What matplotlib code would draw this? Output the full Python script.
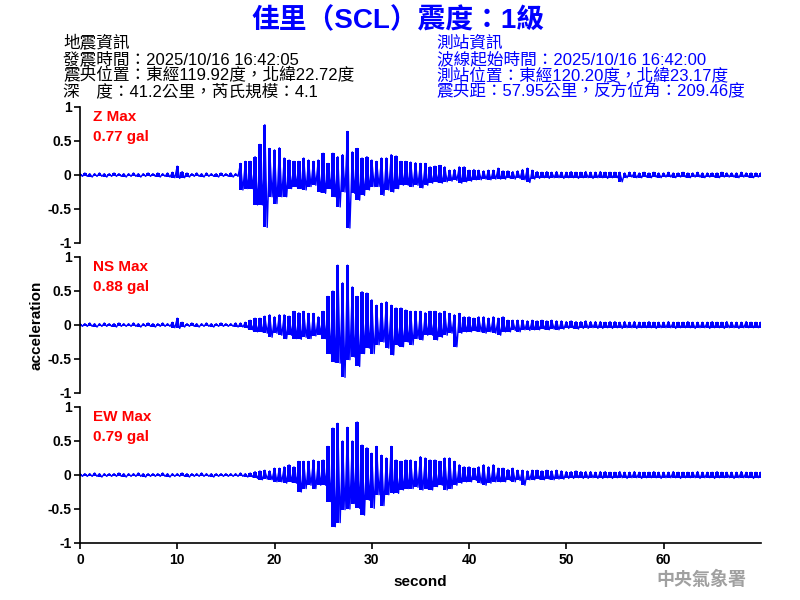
import numpy as np
import matplotlib
matplotlib.use('Agg')
import matplotlib.pyplot as plt

plt.rcParams['font.family'] = ['Liberation Sans', 'Noto Sans CJK TC', 'DejaVu Sans']

# sample times (s) of the envelope readings, one every half second
t_sec = np.arange(0, 70.5, 0.5)

# Z component: upper / lower peaks
z_hi = [0.02, 0.03, 0.02, 0.02, 0.03, 0.02, 0.02, 0.03, 0.02, 0.02,
        0.02, 0.03, 0.02, 0.02, 0.03, 0.02, 0.03, 0.02, 0.03, 0.04,
        0.13, 0.05, 0.03, 0.02, 0.03, 0.02, 0.03, 0.02, 0.02, 0.03,
        0.02, 0.03, 0.02, 0.17, 0.20, 0.20, 0.27, 0.45, 0.74, 0.39,
        0.37, 0.40, 0.25, 0.22, 0.20, 0.20, 0.25, 0.22, 0.20, 0.22,
        0.32, 0.17, 0.32, 0.27, 0.30, 0.64, 0.34, 0.39, 0.25, 0.27,
        0.22, 0.20, 0.25, 0.25, 0.30, 0.28, 0.20, 0.20, 0.19, 0.18,
        0.17, 0.17, 0.12, 0.13, 0.14, 0.12, 0.07, 0.08, 0.12, 0.12,
        0.07, 0.08, 0.07, 0.06, 0.07, 0.07, 0.10, 0.06, 0.06, 0.05,
        0.06, 0.08, 0.10, 0.07, 0.05, 0.04, 0.05, 0.04, 0.05, 0.04,
        0.04, 0.05, 0.04, 0.04, 0.05, 0.04, 0.04, 0.05, 0.04, 0.04,
        0.04, 0.04, 0.03, 0.04, 0.04, 0.03, 0.04, 0.03, 0.04, 0.03,
        0.03, 0.04, 0.03, 0.03, 0.04, 0.03, 0.03, 0.04, 0.03, 0.03,
        0.03, 0.03, 0.04, 0.03, 0.03, 0.03, 0.04, 0.03, 0.03, 0.03,
        0.03]
z_lo = [-0.02, -0.02, -0.03, -0.02, -0.02, -0.03, -0.02, -0.02, -0.02, -0.03,
        -0.02, -0.02, -0.03, -0.02, -0.02, -0.02, -0.03, -0.02, -0.03, -0.04,
        -0.05, -0.04, -0.03, -0.02, -0.02, -0.03, -0.02, -0.02, -0.03, -0.02,
        -0.02, -0.03, -0.02, -0.22, -0.20, -0.20, -0.44, -0.44, -0.77, -0.32,
        -0.42, -0.32, -0.32, -0.20, -0.17, -0.20, -0.22, -0.17, -0.15, -0.25,
        -0.27, -0.20, -0.32, -0.47, -0.25, -0.78, -0.27, -0.37, -0.30, -0.22,
        -0.17, -0.17, -0.30, -0.22, -0.25, -0.20, -0.15, -0.15, -0.17, -0.15,
        -0.19, -0.15, -0.12, -0.10, -0.12, -0.10, -0.09, -0.08, -0.12, -0.10,
        -0.09, -0.07, -0.07, -0.06, -0.07, -0.06, -0.06, -0.06, -0.05, -0.06,
        -0.05, -0.07, -0.11, -0.06, -0.05, -0.04, -0.05, -0.04, -0.04, -0.05,
        -0.04, -0.04, -0.05, -0.04, -0.04, -0.05, -0.04, -0.04, -0.05, -0.04,
        -0.04, -0.10, -0.04, -0.03, -0.04, -0.04, -0.03, -0.04, -0.03, -0.04,
        -0.03, -0.03, -0.04, -0.03, -0.03, -0.04, -0.03, -0.03, -0.04, -0.03,
        -0.03, -0.04, -0.03, -0.03, -0.03, -0.04, -0.03, -0.03, -0.04, -0.03,
        -0.03]

# NS component
ns_hi = [0.02, 0.02, 0.03, 0.02, 0.02, 0.03, 0.02, 0.02, 0.03, 0.02,
         0.02, 0.03, 0.02, 0.02, 0.03, 0.02, 0.02, 0.03, 0.02, 0.04,
         0.10, 0.04, 0.02, 0.03, 0.02, 0.02, 0.03, 0.02, 0.02, 0.03,
         0.02, 0.02, 0.03, 0.03, 0.04, 0.07, 0.10, 0.10, 0.13, 0.15,
         0.12, 0.15, 0.15, 0.13, 0.20, 0.18, 0.20, 0.17, 0.17, 0.12,
         0.20, 0.42, 0.50, 0.88, 0.62, 0.88, 0.56, 0.42, 0.49, 0.47,
         0.37, 0.29, 0.32, 0.34, 0.29, 0.25, 0.25, 0.22, 0.20, 0.20,
         0.20, 0.18, 0.20, 0.20, 0.18, 0.20, 0.17, 0.15, 0.17, 0.12,
         0.12, 0.10, 0.12, 0.12, 0.10, 0.12, 0.10, 0.12, 0.07, 0.07,
         0.07, 0.07, 0.06, 0.07, 0.06, 0.07, 0.06, 0.07, 0.06, 0.06,
         0.05, 0.06, 0.05, 0.05, 0.06, 0.05, 0.05, 0.05, 0.04, 0.05,
         0.05, 0.04, 0.05, 0.04, 0.05, 0.04, 0.04, 0.05, 0.04, 0.04,
         0.04, 0.05, 0.04, 0.04, 0.04, 0.05, 0.04, 0.04, 0.04, 0.04,
         0.05, 0.04, 0.04, 0.05, 0.04, 0.04, 0.04, 0.05, 0.04, 0.04,
         0.04]
ns_lo = [-0.02, -0.02, -0.02, -0.03, -0.02, -0.02, -0.02, -0.03, -0.02, -0.02,
         -0.02, -0.02, -0.03, -0.02, -0.02, -0.03, -0.02, -0.02, -0.02, -0.04,
         -0.05, -0.03, -0.02, -0.02, -0.03, -0.02, -0.02, -0.03, -0.02, -0.02,
         -0.02, -0.02, -0.03, -0.03, -0.04, -0.07, -0.10, -0.10, -0.12, -0.18,
         -0.12, -0.15, -0.20, -0.15, -0.20, -0.21, -0.18, -0.20, -0.16, -0.14,
         -0.20, -0.42, -0.55, -0.56, -0.77, -0.51, -0.47, -0.61, -0.42, -0.34,
         -0.42, -0.29, -0.25, -0.34, -0.44, -0.30, -0.32, -0.25, -0.29, -0.20,
         -0.22, -0.15, -0.15, -0.22, -0.18, -0.15, -0.12, -0.32, -0.12, -0.10,
         -0.10, -0.09, -0.10, -0.12, -0.10, -0.12, -0.15, -0.10, -0.10, -0.08,
         -0.10, -0.07, -0.08, -0.07, -0.07, -0.06, -0.07, -0.06, -0.07, -0.06,
         -0.05, -0.05, -0.06, -0.05, -0.05, -0.04, -0.05, -0.05, -0.04, -0.05,
         -0.04, -0.05, -0.04, -0.04, -0.05, -0.04, -0.04, -0.04, -0.05, -0.04,
         -0.04, -0.04, -0.05, -0.04, -0.04, -0.04, -0.05, -0.04, -0.04, -0.05,
         -0.04, -0.04, -0.05, -0.04, -0.04, -0.05, -0.04, -0.04, -0.04, -0.04,
         -0.04]

# EW component
ew_hi = [0.02, 0.02, 0.02, 0.03, 0.02, 0.02, 0.02, 0.02, 0.03, 0.02,
         0.02, 0.02, 0.03, 0.02, 0.02, 0.02, 0.02, 0.03, 0.02, 0.02,
         0.02, 0.03, 0.02, 0.02, 0.02, 0.03, 0.02, 0.02, 0.02, 0.02,
         0.02, 0.02, 0.02, 0.03, 0.02, 0.03, 0.05, 0.06, 0.07, 0.06,
         0.10, 0.10, 0.12, 0.15, 0.12, 0.20, 0.20, 0.20, 0.22, 0.20,
         0.22, 0.42, 0.69, 0.76, 0.50, 0.70, 0.50, 0.78, 0.44, 0.40,
         0.32, 0.42, 0.29, 0.25, 0.42, 0.22, 0.20, 0.22, 0.22, 0.20,
         0.27, 0.25, 0.22, 0.22, 0.20, 0.25, 0.25, 0.20, 0.15, 0.12,
         0.12, 0.10, 0.12, 0.15, 0.12, 0.15, 0.10, 0.10, 0.08, 0.10,
         0.07, 0.07, 0.06, 0.07, 0.07, 0.06, 0.07, 0.06, 0.07, 0.06,
         0.05, 0.05, 0.06, 0.05, 0.05, 0.05, 0.04, 0.05, 0.05, 0.04,
         0.04, 0.05, 0.04, 0.04, 0.05, 0.04, 0.04, 0.04, 0.05, 0.04,
         0.04, 0.04, 0.05, 0.04, 0.04, 0.04, 0.04, 0.05, 0.04, 0.04,
         0.04, 0.05, 0.04, 0.04, 0.04, 0.04, 0.05, 0.04, 0.04, 0.04,
         0.04]
ew_lo = [-0.02, -0.02, -0.02, -0.02, -0.03, -0.02, -0.02, -0.02, -0.02, -0.03,
         -0.02, -0.02, -0.02, -0.03, -0.02, -0.02, -0.02, -0.02, -0.03, -0.02,
         -0.02, -0.02, -0.03, -0.02, -0.02, -0.02, -0.02, -0.03, -0.02, -0.02,
         -0.02, -0.02, -0.02, -0.02, -0.03, -0.03, -0.05, -0.07, -0.06, -0.07,
         -0.10, -0.10, -0.12, -0.10, -0.12, -0.25, -0.20, -0.15, -0.20, -0.15,
         -0.15, -0.39, -0.76, -0.70, -0.51, -0.50, -0.42, -0.49, -0.59, -0.37,
         -0.49, -0.29, -0.45, -0.29, -0.27, -0.27, -0.22, -0.20, -0.20, -0.18,
         -0.22, -0.20, -0.22, -0.17, -0.15, -0.22, -0.20, -0.15, -0.12, -0.10,
         -0.10, -0.08, -0.12, -0.15, -0.12, -0.10, -0.10, -0.10, -0.08, -0.10,
         -0.08, -0.15, -0.07, -0.07, -0.06, -0.07, -0.06, -0.07, -0.06, -0.06,
         -0.05, -0.05, -0.04, -0.05, -0.05, -0.04, -0.05, -0.05, -0.04, -0.05,
         -0.04, -0.04, -0.05, -0.04, -0.04, -0.05, -0.04, -0.04, -0.04, -0.05,
         -0.04, -0.04, -0.04, -0.05, -0.04, -0.04, -0.04, -0.05, -0.04, -0.04,
         -0.05, -0.04, -0.04, -0.04, -0.05, -0.04, -0.04, -0.04, -0.05, -0.04,
         -0.04]

channels = ['Z', 'NS', 'EW']
max_gal = ['0.77', '0.88', '0.79']
traces = [(z_hi, z_lo), (ns_hi, ns_lo), (ew_hi, ew_lo)]

title = '佳里（SCL）震度：1級'
quake_info = ['地震資訊',
              '發震時間：2025/10/16 16:42:05',
              '震央位置：東經119.92度，北緯22.72度',
              '深　度：41.2公里，芮氏規模：4.1']
station_info = ['測站資訊',
                '波線起始時間：2025/10/16 16:42:00',
                '測站位置：東經120.20度，北緯23.17度',
                '震央距：57.95公里，反方位角：209.46度']

fig = plt.figure(figsize=(8, 6), dpi=100)
fig.text(0.497, 0.965, title, ha='center', va='center', color='#0000ff',
         fontsize=20, fontweight='bold')
for i, line in enumerate(quake_info):
    fig.text(0.079, 1 - (43 + 16 * i) / 600, line, ha='left', va='center',
             fontsize=12, color='black')
for i, line in enumerate(station_info):
    fig.text(0.546, 1 - (43 + 16 * i) / 600, line, ha='left', va='center',
             fontsize=12, color='#0000ff')

tops = [107, 257, 407]
for k, (name, gal, (hi, lo)) in enumerate(zip(channels, max_gal, traces)):
    ax = fig.add_axes([0.1, 1 - (tops[k] + 136) / 600, 0.851, 136 / 600])
    # one short column per reading from its lower to its upper peak
    ax.bar(t_sec, np.array(hi) - np.array(lo), bottom=lo, width=0.35,
           color='#0000ff', lw=0)
    x = np.column_stack([t_sec, t_sec + 0.25]).ravel()
    y = np.column_stack([hi, lo]).ravel()
    ax.plot(x, y, color='#0000ff', lw=1.0)
    ax.set_xlim(0, 70)
    ax.set_ylim(-1, 1)
    ax.set_yticks([-1, -0.5, 0, 0.5, 1])
    ax.set_yticklabels(['-1', '-0.5', '0', '0.5', '1'])
    for s in ['top', 'right']:
        ax.spines[s].set_visible(False)
    ax.spines['left'].set_linewidth(1.2)
    ax.tick_params(axis='y', direction='out', length=4, width=1.2, pad=2)
    for lab in ax.get_yticklabels():
        lab.set_fontweight('bold')
        lab.set_fontsize(10)
    if k < 2:
        ax.spines['bottom'].set_visible(False)
        ax.set_xticks([])
    else:
        ax.spines['bottom'].set_linewidth(1.2)
        ax.set_xticks([0, 10, 20, 30, 40, 50, 60])
        ax.tick_params(axis='x', direction='out', length=4, width=1.2, pad=3)
        for lab in ax.get_xticklabels():
            lab.set_fontweight('bold')
            lab.set_fontsize(10)
        ax.set_xlabel('second', fontsize=11, fontweight='bold', labelpad=6)
    ax.text(0.019, 0.93, name + ' Max', transform=ax.transAxes, color='red',
            fontsize=11, fontweight='bold', va='center')
    ax.text(0.019, 0.78, gal + ' gal', transform=ax.transAxes, color='red',
            fontsize=11, fontweight='bold', va='center')
    if k == 1:
        ax.set_ylabel('acceleration', fontsize=11, fontweight='bold', labelpad=3)

fig.text(0.877, 1 - 580 / 600, '中央氣象署', ha='center', va='center',
         color='#a0a0a0', fontsize=13, fontweight='bold')

fig.savefig('out.png', dpi=100)
